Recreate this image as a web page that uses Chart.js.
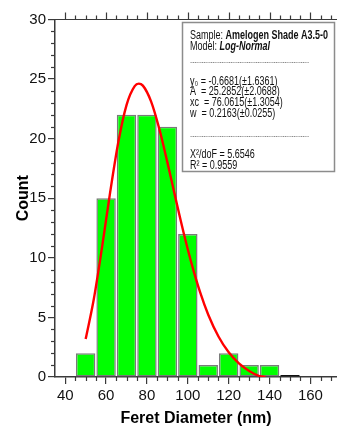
<!DOCTYPE html>
<html>
<head>
<meta charset="utf-8">
<title>Feret Diameter histogram</title>
<script src="https://cdn.jsdelivr.net/npm/chart.js@4/dist/chart.umd.min.js"></script>
<style>
  html, body { margin: 0; padding: 0; background: #fff; }
  #wrap { width: 337px; height: 429px; position: relative; }
</style>
</head>
<body>
<div id="wrap"><canvas id="c"></canvas></div>
<script>
// Histogram bins (centre of each 10 nm bin) and their counts
const binCenters = [50, 60, 70, 80, 90, 100, 110, 120, 130, 140, 150];
const counts     = [2, 15, 22, 22, 21, 12, 1, 2, 1, 1, 0];

// Log-normal fit curve, sampled along the diameter axis
const fitX = [50, 54, 58, 62, 66, 70, 74, 76, 78, 82, 86, 90, 94, 98, 102, 106, 110, 115, 120, 125, 130, 135, 138];
const fitY = [3.18, 6.55, 10.86, 15.51, 19.72, 22.82, 24.41, 24.62, 24.45, 23.13, 20.85, 18.01, 14.99, 12.06, 9.41, 7.12, 5.23, 3.40, 2.07, 1.14, 0.51, 0.08, 0];

// Axis tick labels
const xTickValues = [40, 60, 80, 100, 120, 140, 160];
const yTickValues = [0, 5, 10, 15, 20, 25, 30];

// Fit report lines: [text, font style] segments
const reportLines = [
  [["Sample: ", ""], ["Amelogen Shade A3.5-0", "bold"]],
  [["Model: ", ""], ["Log-Normal", "italic bold"]],
  [["-----------------------------------------------------", "dash"]],
  [["y\u2080 = -0.6681(\u00b11.6361)", ""]],
  [["A  = 25.2852(\u00b12.0688)", ""]],
  [["xc  = 76.0615(\u00b11.3054)", ""]],
  [["w  = 0.2163(\u00b10.0255)", ""]],
  [["-----------------------------------------------------", "dash"]],
  [["X\u00b2/doF = 5.6546", ""]],
  [["R\u00b2 = 0.9559", ""]]
];

const FONT = '"Liberation Sans", Arial, sans-serif';

// Minor ticks, the top axis and the fit report box
const extrasPlugin = {
  id: 'extras',
  afterDraw(chart) {
    const ctx = chart.ctx;
    const a = chart.chartArea;
    const xs = chart.scales.x, ys = chart.scales.y;
    ctx.save();
    ctx.strokeStyle = '#3a3a3a';
    ctx.lineWidth = 1.2;
    // top axis line
    ctx.beginPath();
    ctx.moveTo(a.left, a.top);
    ctx.lineTo(a.right, a.top);
    ctx.stroke();
    // x ticks (bottom minors + all top ticks)
    for (let v = 40; v <= 170; v += 5) {
      const px = Math.round(xs.getPixelForValue(v)) + 0.5;
      const major = v % 20 === 0;
      const len = major ? 7 : 4;
      ctx.beginPath();
      if (!major) { ctx.moveTo(px, a.bottom); ctx.lineTo(px, a.bottom + len); }
      ctx.moveTo(px, a.top); ctx.lineTo(px, a.top - len);
      ctx.stroke();
    }
    // y minor ticks
    for (let v = 0; v <= 30; v += 1) {
      if (v % 5 === 0) continue;
      const py = Math.round(ys.getPixelForValue(v)) + 0.5;
      ctx.beginPath();
      ctx.moveTo(a.left, py); ctx.lineTo(a.left - 4, py);
      ctx.stroke();
    }

    // fit report box
    const bx = 182, by = 22, bw = 152, bh = 149;
    ctx.fillStyle = '#ffffff';
    ctx.fillRect(bx, by, bw, bh);
    ctx.strokeStyle = '#8c8c8c';
    ctx.lineWidth = 1.5;
    ctx.strokeRect(bx + 0.5, by + 0.5, bw, bh);
    const lineYs = [35.5, 46.5, 62.5, 81.5, 92, 103, 114, 137, 155, 166];
    const sx = 0.75;  // narrow lettering
    ctx.textBaseline = 'middle';
    ctx.textAlign = 'left';
    reportLines.forEach((segs, i) => {
      let x = 0;
      const y = lineYs[i];
      ctx.save();
      ctx.translate(190, y);
      ctx.scale(sx, 1);
      segs.forEach(([txt, style]) => {
        const dashed = style === 'dash';
        ctx.font = (style && !dashed ? style + ' ' : '') + (dashed ? '9px ' : '12px ') + FONT;
        ctx.fillStyle = dashed ? '#666' : '#111';
        ctx.fillText(txt, x, 0);
        x += ctx.measureText(txt).width;
      });
      ctx.restore();
    });
    ctx.restore();
  }
};

new Chart(document.getElementById('c'), {
  type: 'bar',
  data: {
    datasets: [
      {
        type: 'line',
        data: fitX.map((x, i) => ({ x: x, y: fitY[i] })),
        borderColor: '#ff0000',
        borderWidth: 2.4,
        pointRadius: 0,
        cubicInterpolationMode: 'monotone',
        fill: false,
        order: 0
      },
      {
        type: 'bar',
        data: binCenters.map((x, i) => ({ x: x, y: counts[i] })),
        backgroundColor: '#00ff00',
        borderColor: binCenters.map((x, i) => counts[i] === 0 ? '#111111' : '#7a7a7a'),
        borderWidth: 1.5,
        borderSkipped: false,
        minBarLength: 2,
        barPercentage: 0.95,
        categoryPercentage: 1,
        order: 1
      }
    ]
  },
  options: {
    responsive: true,
    maintainAspectRatio: false,
    animation: false,
    events: [],
    layout: { padding: { top: 19.5, right: 0, bottom: 0, left: 0 } },
    plugins: { legend: { display: false }, tooltip: { enabled: false } },
    scales: {
      x: {
        type: 'linear',
        offset: false,
        min: 35,
        max: 173,
        afterBuildTicks(scale) { scale.ticks = xTickValues.map(v => ({ value: v })); },
        afterFit(scale) { scale.height = 52; },
        grid: { offset: false, drawOnChartArea: false, tickLength: 7, color: '#3a3a3a', lineWidth: 1.2 },
        border: { display: true, color: '#3a3a3a', width: 1.5 },
        ticks: { color: '#111', font: { family: FONT, size: 15 }, padding: 3, maxRotation: 0 },
        title: {
          display: true,
          text: 'Feret Diameter (nm)',
          color: '#000',
          font: { family: FONT, size: 16, weight: 'bold' },
          padding: { top: 0, bottom: 1 }
        }
      },
      y: {
        min: 0,
        max: 30,
        afterBuildTicks(scale) { scale.ticks = yTickValues.map(v => ({ value: v })); },
        afterFit(scale) { scale.width = 55; },
        grid: { drawOnChartArea: false, tickLength: 7, color: '#3a3a3a', lineWidth: 1.2 },
        border: { display: true, color: '#3a3a3a', width: 1.5 },
        ticks: { color: '#111', font: { family: FONT, size: 15 }, padding: 2 },
        title: {
          display: true,
          text: 'Count',
          color: '#000',
          font: { family: FONT, size: 16, weight: 'bold' },
          padding: { top: 14, bottom: 0 }
        }
      }
    }
  },
  plugins: [extrasPlugin]
});
</script>
</body>
</html>
